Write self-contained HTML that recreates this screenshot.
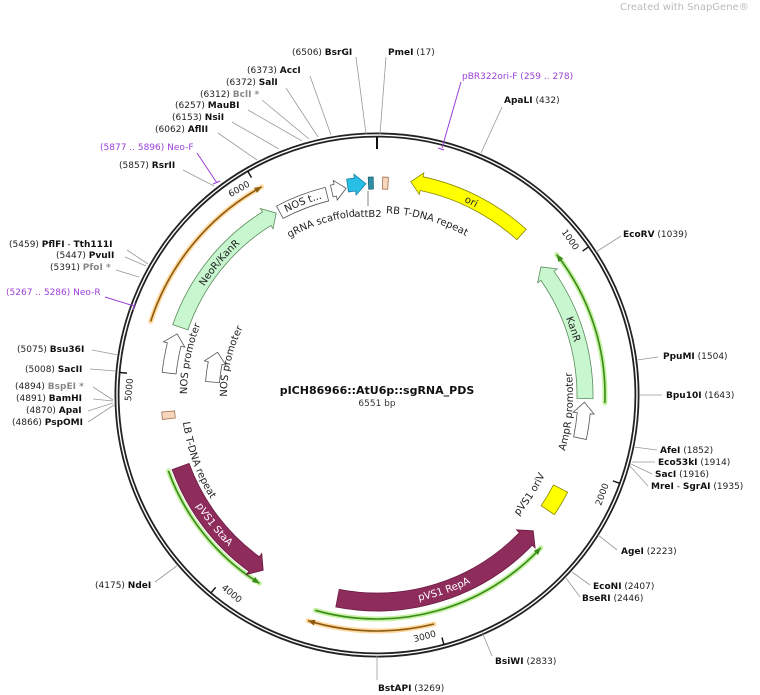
<!DOCTYPE html>
<html><head><meta charset="utf-8"><style>
html,body{margin:0;padding:0;background:#fff;width:760px;height:695px;overflow:hidden}
svg{display:block;font-family:"DejaVu Sans","Liberation Sans",sans-serif}
.l{font-size:9px;fill:#222}
.b{font-weight:bold;fill:#111}
.g{fill:#888}
.p{fill:#9b3fd8;font-size:9px}
.ln{stroke:#999;stroke-width:0.8;fill:none}
.fl{font-size:10px;fill:#222}
</style></head><body>
<svg id="s" width="760" height="695" viewBox="0 0 760 695" xmlns="http://www.w3.org/2000/svg">
<defs id="d"></defs>
<text x="620" y="10" style="font-size:10px;fill:#bbb">Created with SnapGene®</text>
<g id="ring"></g>
<g id="feat"></g>
<g class="ln">
<line x1="356" y1="57" x2="366" y2="134"/>
<line x1="386" y1="57" x2="380" y2="134"/>
<line x1="310" y1="76" x2="331" y2="135"/>
<line x1="286" y1="88" x2="318" y2="137"/>
<line x1="262" y1="100" x2="309" y2="139"/>
<line x1="248" y1="110" x2="302" y2="141"/>
<line x1="232" y1="122" x2="279" y2="149"/>
<line x1="218" y1="133" x2="257" y2="160"/>
<line x1="183" y1="170" x2="214" y2="186"/>
<line x1="502" y1="107" x2="481" y2="153"/>
<line x1="621" y1="236" x2="596" y2="252"/>
<line x1="127" y1="250" x2="148" y2="264"/>
<line x1="125" y1="257" x2="146" y2="266"/>
<line x1="116" y1="270" x2="139" y2="277"/>
<line x1="92" y1="350" x2="118" y2="355"/>
<line x1="90" y1="369" x2="116" y2="371"/>
<line x1="93" y1="387" x2="113" y2="400"/>
<line x1="93" y1="399" x2="113" y2="401"/>
<line x1="88" y1="411" x2="113" y2="403"/>
<line x1="88" y1="422" x2="114" y2="405"/>
<line x1="658" y1="357" x2="637" y2="360"/>
<line x1="662" y1="395" x2="640" y2="395"/>
<line x1="657" y1="450" x2="634" y2="447"/>
<line x1="655" y1="462" x2="632" y2="462"/>
<line x1="652" y1="474" x2="631" y2="464"/>
<line x1="648" y1="486" x2="630" y2="466"/>
<line x1="617" y1="550" x2="598" y2="535"/>
<line x1="590" y1="585" x2="572" y2="572"/>
<line x1="580" y1="597" x2="566" y2="578"/>
<line x1="492" y1="656" x2="482" y2="632"/>
<line x1="377" y1="680" x2="377" y2="656"/>
<line x1="155" y1="582" x2="178" y2="565"/>
</g>
<g stroke="#9b3fd8" stroke-width="1" fill="none">
<line x1="197" y1="153" x2="217" y2="183"/><line x1="213" y1="184" x2="220" y2="181"/>
<line x1="461" y1="82" x2="442" y2="148"/><line x1="438" y1="148" x2="444" y2="150"/>
<line x1="105" y1="297" x2="134" y2="306"/><line x1="135" y1="303" x2="133" y2="310"/>
</g>
<text class="l" x="292" y="55">(6506)  <tspan class="b">BsrGI</tspan></text>
<text class="l" x="388" y="55"><tspan class="b">PmeI</tspan>  (17)</text>
<text class="l" x="247" y="73">(6373)  <tspan class="b">AccI</tspan></text>
<text class="l" x="226" y="85">(6372)  <tspan class="b">SalI</tspan></text>
<text class="l" x="200" y="97">(6312)  <tspan class="g" font-weight="bold">BclI *</tspan></text>
<text class="l" x="175" y="108">(6257)  <tspan class="b">MauBI</tspan></text>
<text class="l" x="172" y="120">(6153)  <tspan class="b">NsiI</tspan></text>
<text class="l" x="155" y="132">(6062)  <tspan class="b">AflII</tspan></text>
<text class="p" x="100" y="150">(5877 .. 5896)  Neo-F</text>
<text class="l" x="119" y="168">(5857)  <tspan class="b">RsrII</tspan></text>
<text class="p" x="462" y="79">pBR322ori-F   (259 .. 278)</text>
<text class="l" x="504" y="103"><tspan class="b">ApaLI</tspan>   (432)</text>
<text class="l" x="623" y="237"><tspan class="b">EcoRV</tspan>   (1039)</text>
<text class="l" x="9" y="247">(5459)  <tspan class="b">PflFI</tspan>  - <tspan class="b">Tth111I</tspan></text>
<text class="l" x="56" y="258">(5447)  <tspan class="b">PvuII</tspan></text>
<text class="l" x="50" y="270">(5391)  <tspan class="g" font-weight="bold">PfoI *</tspan></text>
<text class="p" x="6" y="295">(5267 .. 5286)  Neo-R</text>
<text class="l" x="17" y="352">(5075)  <tspan class="b">Bsu36I</tspan></text>
<text class="l" x="25" y="372">(5008)  <tspan class="b">SacII</tspan></text>
<text class="l" x="15" y="389">(4894)  <tspan class="g" font-weight="bold">BspEI *</tspan></text>
<text class="l" x="16" y="401">(4891)  <tspan class="b">BamHI</tspan></text>
<text class="l" x="26" y="413">(4870)  <tspan class="b">ApaI</tspan></text>
<text class="l" x="12" y="425">(4866)  <tspan class="b">PspOMI</tspan></text>
<text class="l" x="663" y="359"><tspan class="b">PpuMI</tspan>   (1504)</text>
<text class="l" x="666" y="398"><tspan class="b">Bpu10I</tspan>   (1643)</text>
<text class="l" x="660" y="453"><tspan class="b">AfeI</tspan>   (1852)</text>
<text class="l" x="658" y="465"><tspan class="b">Eco53kI</tspan>   (1914)</text>
<text class="l" x="655" y="477"><tspan class="b">SacI</tspan>   (1916)</text>
<text class="l" x="651" y="489"><tspan class="b">MreI</tspan>  - <tspan class="b">SgrAI</tspan>   (1935)</text>
<text class="l" x="621" y="554"><tspan class="b">AgeI</tspan>   (2223)</text>
<text class="l" x="593" y="589"><tspan class="b">EcoNI</tspan>   (2407)</text>
<text class="l" x="582" y="601"><tspan class="b">BseRI</tspan>   (2446)</text>
<text class="l" x="495" y="664"><tspan class="b">BsiWI</tspan>   (2833)</text>
<text class="l" x="378" y="691"><tspan class="b">BstAPI</tspan>   (3269)</text>
<text class="l" x="95" y="588">(4175)  <tspan class="b">NdeI</tspan></text>
<text x="377" y="394" text-anchor="middle" style="font-size:11px;font-weight:bold;fill:#111">pICH86966::AtU6p::sgRNA_PDS</text>
<text x="377" y="406" text-anchor="middle" style="font-size:9px;fill:#333">6551 bp</text>
<text x="368" y="217" text-anchor="middle" class="fl">attB2</text>
<line x1="368" y1="191" x2="368" y2="206" stroke="#666" stroke-width="0.8"/>
</svg>
<script>
var NS="http://www.w3.org/2000/svg",cx=377,cy=395,R=260;
var F=document.getElementById('feat'),D=document.getElementById('d'),RG=document.getElementById('ring');
function pt(r,a){var t=a*Math.PI/180;return [cx+r*Math.sin(t),cy-r*Math.cos(t)];}
function P(r,a){var p=pt(r,a);return p[0].toFixed(2)+","+p[1].toFixed(2);}
function arc(r,a1,a2){var cw=a2>a1?1:0,lg=Math.abs(a2-a1)>180?1:0;return "A"+r+","+r+" 0 "+lg+","+cw+" "+P(r,a2);}
function el(n,at,par){var e=document.createElementNS(NS,n);for(var k in at)e.setAttribute(k,at[k]);(par||F).appendChild(e);return e;}
el('circle',{cx:cx,cy:cy,r:R,fill:'none',stroke:'#222','stroke-width':5},RG);
el('circle',{cx:cx,cy:cy,r:R,fill:'none',stroke:'#fff','stroke-width':1.4},RG);
el('path',{d:"M"+P(R-2,0)+"L"+P(R-14,0),stroke:'#111','stroke-width':2},RG);
var ticks=[[1000,55,-3.8],[2000,110,3.8],[3000,165,3.8],[4000,220,-3.8],[5000,275,-3.8],[6000,330,-3.8]];
ticks.forEach(function(t){var a=t[1];el('path',{d:"M"+P(R-1,a)+"L"+P(R-9,a),stroke:'#111','stroke-width':1.4},RG);
 var ac=a+t[2],p=pt(R-13,ac),rot=a<=90?a:(a<270?a-180:a-360);
 var tx=el('text',{x:p[0],y:p[1],'text-anchor':'middle','dominant-baseline':'central',transform:'rotate('+rot+' '+p[0]+' '+p[1]+')',style:'font-size:9px;fill:#222'},RG);tx.textContent=t[0];});
function feat(ri,ro,a1,a2,head,fill,stroke){var rm=(ri+ro)/2,h=head?11/rm*180/Math.PI:0,d;
 if(head==='end'){var b=a2-h;d="M"+P(ro,a1)+arc(ro,a1,b)+"L"+P(ro+4,b)+"L"+P(rm,a2)+"L"+P(ri-4,b)+"L"+P(ri,b)+arc(ri,b,a1)+"Z";}
 else if(head==='start'){var b=a1+h;d="M"+P(rm,a1)+"L"+P(ro+4,b)+"L"+P(ro,b)+arc(ro,b,a2)+"L"+P(ri,a2)+arc(ri,a2,b)+"L"+P(ri-4,b)+"Z";}
 else d="M"+P(ro,a1)+arc(ro,a1,a2)+"L"+P(ri,a2)+arc(ri,a2,a1)+"Z";
 el('path',{d:d,fill:fill,stroke:stroke,'stroke-width':0.8});}
function pline(r,a1,a2,head,col,glow){var d="M"+P(r,a1)+arc(r,a1,a2);
 el('path',{d:d,fill:'none',stroke:glow,'stroke-width':5,'stroke-linecap':'round',opacity:0.8});
 el('path',{d:d,fill:'none',stroke:col,'stroke-width':1.6});
 var e=head==='end'?a2:a1,s=head==='end'?-1:1,dd=7/r*180/Math.PI,b=e+s*dd;
 el('path',{d:"M"+P(r,e)+"L"+P(r+3,b)+"L"+P(r-3,b)+"Z",fill:col});}
var id=0;
function tp(r,a1,a2,txt,style){var pid='tp'+(id++);el('path',{id:pid,d:"M"+P(r,a1)+arc(r,a1,a2),fill:'none'},D);
 var t=el('text',{style:style||'font-size:10px;fill:#222'});var q=el('textPath',{href:'#'+pid,startOffset:'50%','text-anchor':'middle'},t);q.setAttributeNS('http://www.w3.org/1999/xlink','xlink:href','#'+pid);q.textContent=txt;}
pline(228,52,92,'start','#3a8a1a','#b6ee8c');
pline(224,133,196,'start','#3a8a1a','#b6ee8c');
pline(236,166,197,'end','#8a5a10','#ffd08a');
pline(222,212,250,'start','#3a8a1a','#b6ee8c');
pline(238,288,331,'end','#8a5a10','#ffd08a');
feat(209,223,9,42,'start','#ffff00','#888800');
feat(200,216,52,91,'start','#c8f7cf','#5a8a5a');
feat(201,214,92,102,'start','#ffffff','#555');
feat(198,214,117,124,null,'#ffff00','#888800');
feat(198,216,131,191,'start','#8e2c5c','#6a1a40');
feat(200,218,213,250,'start','#8e2c5c','#6a1a40');
feat(203,216,263.5,265.5,null,'#f7d6bc','#a07050');
feat(202,216,276,287,'end','#ffffff','#555');
feat(158,172,274.5,285,'end','#ffffff','#555');
feat(200,216,289,331,'end','#c8f7cf','#5a8a5a');
feat(200,214,332,346,null,'#ffffff','#555');
feat(203,215,347.5,351.5,'end','#ffffff','#555');
feat(205,218,352,357,'end','#28bfe6','#1a7fa0');
feat(206,218,357.7,359,null,'#2e8ea8','#1a5f70');
feat(206,218,1.5,3,null,'#f7d6bc','#a07050');
tp(212,10,42,'ori');
tp(204,52,91,'KanR');
tp(204,289,331,'NeoR/KanR');
tp(204,332,346,'NOS t...');
tp(180,-32,-4,'gRNA scaffold');
tp(182,0,32,'RB T-DNA repeat');
tp(210,191,131,'pVS1 RepA','font-size:10px;fill:#fff');
tp(212,250,213,'pVS1 StaA','font-size:10px;fill:#fff');
tp(196,266,234,'LB T-DNA repeat');
tp(196,108,82,'AmpR promoter');
tp(186,134,112,'pVS1 oriV');
tp(190,268,294,'NOS promoter');
tp(150,268,298,'NOS promoter');
</script>
</body></html>
